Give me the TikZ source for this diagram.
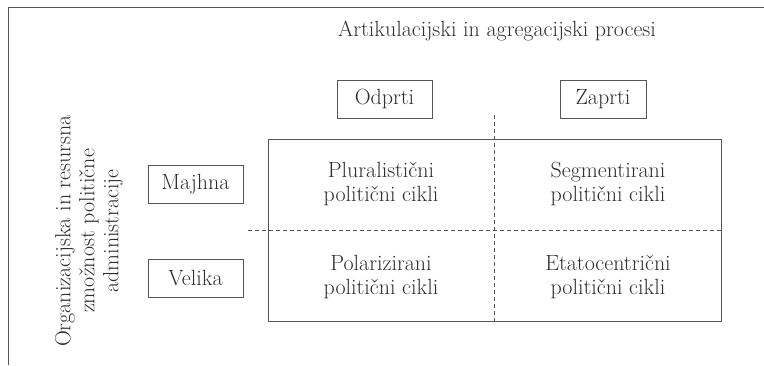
\documentclass[tikz,border=0pt]{standalone}
\usepackage{tikz}
\usetikzlibrary{positioning}
\definecolor{inkgray}{HTML}{2E2E2E}
\definecolor{rulegray}{HTML}{555555}

\begin{document}
\begin{tikzpicture}[x=1pt, y=-1pt,
    catbox/.style={draw=rulegray, line width=1pt, minimum height=38pt, inner sep=0pt,
                   font=\fontsize{22}{24}\selectfont, text=inkgray},
    cell/.style={align=center, font=\fontsize{22}{24}\selectfont, text=inkgray},
    heading/.style={font=\fontsize{22}{24}\selectfont, text=inkgray},
    divider/.style={draw=rulegray, line width=1pt, dash pattern=on 4pt off 3pt},
    frame/.style={draw=rulegray, line width=1.3pt},
]
\useasboundingbox (0,0) rectangle (764,365);

% Open frame (top and left only)
\draw[frame] (764,7.5) -- (8.5,7.5) -- (8.5,365);

% Column heading and categories
\node[heading] (procesi) at (497,31) {Artikulacijski in agregacijski procesi};
\node[catbox, minimum width=95pt] (odprti) at (384.5,99) {Odprti};
\node[catbox, minimum width=86pt] (zaprti) at (603,99) {Zaprti};

% Matrix with dashed dividers
\node[draw=rulegray, line width=1pt, minimum width=453pt, minimum height=182pt,
      inner sep=0pt] (grid) at (494.5,230) {};
\coordinate (vtop) at (494,115);
\coordinate (hleft) at (248,230);
\draw[divider] (vtop) -- (vtop |- grid.south);
\draw[divider] (hleft) -- (hleft -| grid.east);

% Cells
\node[cell] (plural) at (381,184) {Pluralistični\\politični cikli};
\node[cell] (segment) at (608,184) {Segmentirani\\politični cikli};
\node[cell] (polar) at (381,277) {Polarizirani\\politični cikli};
\node[cell] (etato) at (608,277) {Etatocentrični\\politični cikli};

% Row heading and categories
\node[cell, rotate=90] (zmoznost) at (89,231)
  {Organizacijska in resursna\\zmožnost politične\\administracije};
\node[catbox, minimum width=95pt] (majhna) at (195.5,184) {Majhna};
\node[catbox, minimum width=95pt] (velika) at (195.5,278) {Velika};

\end{tikzpicture}
\end{document}
